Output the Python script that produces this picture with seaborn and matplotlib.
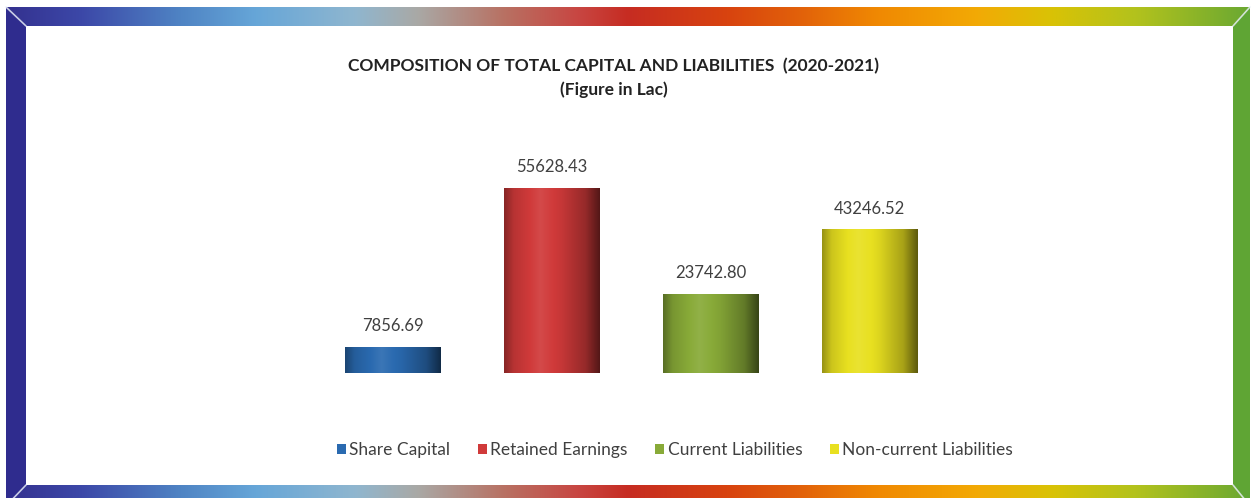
import numpy as np
import matplotlib
matplotlib.use('Agg')
import matplotlib.pyplot as plt
import seaborn as sns
from matplotlib.patches import Polygon, Patch

# chart data
categories = ['Share Capital', 'Retained Earnings', 'Current Liabilities', 'Non-current Liabilities']
values = [7856.69, 55628.43, 23742.80, 43246.52]
bar_colors = ['#2a6ab0', '#d03a3a', '#88aa38', '#e8e020']
title_line1 = 'COMPOSITION OF TOTAL CAPITAL AND LIABILITIES  (2020-2021)'
title_line2 = '(Figure in Lac)'

sns.set_theme(style='white')
plt.rcParams['font.family'] = ['Lato', 'DejaVu Sans']

W, H = 1253, 498
fig = plt.figure(figsize=(W / 100, H / 100), dpi=100)
fig.patch.set_facecolor('white')


def shade(base, f):
    c = np.array(matplotlib.colors.to_rgb(base))
    if f >= 1:
        return c + (1 - c) * (f - 1)
    return c * f


def hgrad(stops, n=400):
    # stops: list of (pos, hex colour)
    pos = [s[0] for s in stops]
    cols = np.array([matplotlib.colors.to_rgb(s[1]) for s in stops])
    xs = np.linspace(0, 1, n)
    img = np.stack([np.interp(xs, pos, cols[:, k]) for k in range(3)], axis=-1)
    return img[np.newaxis, :, :]


# ---- decorative frame ----
bg = fig.add_axes([0, 0, 1, 1], zorder=-5)
bg.set_xlim(0, W)
bg.set_ylim(H, 0)
bg.set_axis_off()

rainbow = [(0.0, '#34318f'), (0.06, '#3c48a8'), (0.14, '#4f84c4'), (0.2, '#66a6d8'),
           (0.28, '#8fb6cf'), (0.33, '#a9a9a6'), (0.4, '#b87163'), (0.46, '#c84642'),
           (0.5, '#c62c22'), (0.58, '#d8430f'), (0.64, '#e2620a'), (0.7, '#f08802'),
           (0.78, '#f3a905'), (0.84, '#dac205'), (0.91, '#b2c21d'), (1.0, '#6aa832')]
grad = hgrad(rainbow)

ox0, ox1, oy0, oy1 = 6, 1250, 7, 506
ix0, ix1, iy0, iy1 = 26, 1233, 26, 485

top = Polygon([(ox0, oy0), (ox1, oy0), (ix1, iy0), (ix0, iy0)], closed=True,
              facecolor='none', edgecolor='none')
bot = Polygon([(ix0, iy1), (ix1, iy1), (ox1, oy1), (ox0, oy1)], closed=True,
              facecolor='none', edgecolor='none')
for poly, (ya, yb) in [(top, (oy0, iy0)), (bot, (iy1, oy1))]:
    bg.add_patch(poly)
    im = bg.imshow(grad, extent=[ox0, ox1, yb, ya], aspect='auto', interpolation='bilinear')
    im.set_clip_path(poly)

bg.add_patch(Polygon([(ox0, oy0), (ix0, iy0), (ix0, iy1), (ox0, oy1)], closed=True,
                     facecolor='#2f2c8e', edgecolor='none'))
bg.add_patch(Polygon([(ox1, oy0), (ix1, iy0), (ix1, iy1), (ox1, oy1)], closed=True,
                     facecolor='#5fa534', edgecolor='none'))
# bevel highlights at corners
for (a, b) in [((ox0, oy0), (ix0, iy0)), ((ox1, oy0), (ix1, iy0)),
               ((ox0, oy1), (ix0, iy1)), ((ox1, oy1), (ix1, iy1))]:
    bg.plot([a[0], b[0]], [a[1], b[1]], color='#e8eef8', lw=1.2, alpha=0.8)
bg.set_xlim(0, W)
bg.set_ylim(H, 0)

# ---- bars ----
ax = fig.add_axes([313 / W, 125 / H, 636 / W, 223 / H])
sns.barplot(x=categories, y=values, hue=categories, palette=bar_colors,
            legend=False, width=0.6, saturation=1, ax=ax)
ax.set_xlim(-0.5, 3.5)
ax.set_ylim(0, 67000)

profile_pos = [0.0, 0.1, 0.38, 0.6, 0.85, 1.0]
profile_f = [0.65, 0.88, 1.08, 0.95, 0.72, 0.4]
for patch, col in zip(ax.patches, bar_colors):
    x, y = patch.get_x(), patch.get_y()
    w, h = patch.get_width(), patch.get_height()
    xs = np.linspace(0, 1, 200)
    fs = np.interp(xs, profile_pos, profile_f)
    img = np.array([shade(col, f) for f in fs])[np.newaxis, :, :]
    patch.set_facecolor('none')
    patch.set_edgecolor('none')
    im = ax.imshow(img, extent=[x, x + w, y, y + h], aspect='auto',
                   interpolation='bilinear', zorder=2)
    im.set_clip_path(patch)

for cont in ax.containers:
    ax.bar_label(cont, labels=[f'{v:.2f}' for v in cont.datavalues], padding=9,
                 fontsize=12, color='#404040')

ax.set_xlim(-0.5, 3.5)
ax.set_ylim(0, 67000)
ax.set_axis_off()

# ---- titles ----
fig.text(614 / W, 1 - 66 / H, title_line1, ha='center', va='center',
         fontsize=12.5, fontweight='bold', color='#222222')
fig.text(614 / W, 1 - 90 / H, title_line2, ha='center', va='center',
         fontsize=12.5, fontweight='bold', color='#222222')

# ---- legend ----
handles = [Patch(facecolor=c, edgecolor='none') for c in bar_colors]
fig.legend(handles, categories, loc='center', bbox_to_anchor=(675 / W, 1 - 450 / H),
           ncol=4, frameon=False, fontsize=12.5, handlelength=0.5, handleheight=0.5,
           handletextpad=0.2, columnspacing=1.6, labelcolor='#404040')

fig.savefig('out.png', dpi=100, facecolor='white')
